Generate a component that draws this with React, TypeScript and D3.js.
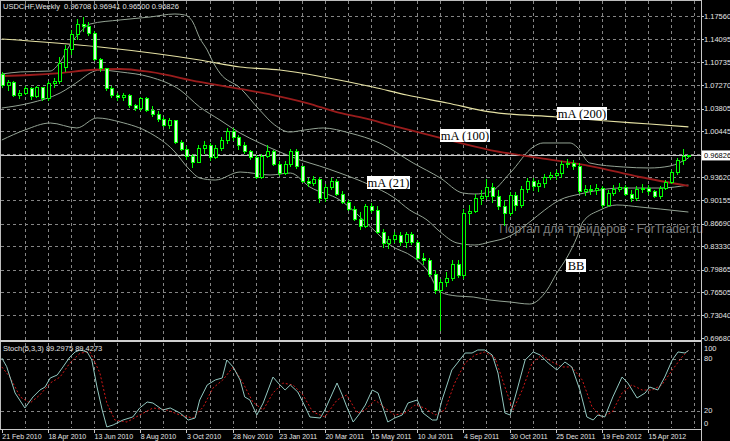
import React from "react";
import * as d3 from "d3";

const symbolTitle = "USDCHF,Weekly  0.96708 0.96941 0.96500 0.96826";
const stochTitle = "Stoch(5,3,3) 89.2975 89.4273";
const watermark = "Портал для трейдеров - ForTrader.ru";

const dateLabels = [
  "21 Feb 2010", "18 Apr 2010", "13 Jun 2010", "8 Aug 2010", "3 Oct 2010",
  "28 Nov 2010", "23 Jan 2011", "20 Mar 2011", "15 May 2011", "10 Jul 2011",
  "4 Sep 2011", "30 Oct 2011", "25 Dec 2011", "19 Feb 2012", "15 Apr 2012",
];
const dateLabelWeeks = [0, 8, 16, 24, 32, 40, 48, 56, 64, 72, 80, 88, 96, 104, 112];

const priceLabels = [1.1756, 1.14095, 1.10735, 1.0727, 1.03805, 1.00445, 0.9362, 0.90155, 0.8669, 0.8333, 0.79865, 0.76505, 0.7304, 0.6968];
const priceGridLevels = [1.1756, 1.14095, 1.10735, 1.0727, 1.03805, 1.00445, 0.9698, 0.9362, 0.90155, 0.8669, 0.8333, 0.79865, 0.76505, 0.7304];
const currentPrice = 0.96826;
const stochLevels = [80, 20];
const stochLabels = [100, 80, 20, 0];

const opens = [
  1.0879, 1.0730, 1.0760, 1.0581, 1.0611, 1.0671, 1.0552, 1.0686, 1.0522, 1.0745,
  1.0775, 1.0983, 1.1265, 1.1474, 1.1637, 1.1593, 1.1503, 1.1102, 1.0968, 1.0671,
  1.0567, 1.0537, 1.0581, 1.0418, 1.0388, 1.0522, 1.0358, 1.0284, 1.0210, 1.0135,
  1.0195, 0.9882, 0.9778, 0.9674, 0.9585, 0.9793, 0.9823, 0.9659, 0.9793, 0.9912,
  1.0046, 0.9942, 0.9823, 0.9748, 0.9659, 0.9362, 0.9674, 0.9734, 0.9555, 0.9407,
  0.9555, 0.9748, 0.9511, 0.9302, 0.9258, 0.9332, 0.9035, 0.9213, 0.9302, 0.9109,
  0.8990, 0.8886, 0.8737, 0.8633, 0.8916, 0.8871, 0.8544, 0.8366, 0.8440, 0.8485,
  0.8381, 0.8500, 0.8381, 0.8157, 0.8113, 0.7905, 0.7667, 0.7786, 0.7860, 0.8068,
  0.7890, 0.8812, 0.8856, 0.9035, 0.9079, 0.9213, 0.9065, 0.8916, 0.8812, 0.9094,
  0.8931, 0.9183, 0.9302, 0.9228, 0.9258, 0.9362, 0.9377, 0.9407, 0.9555, 0.9570,
  0.9511, 0.9139, 0.9183, 0.9154, 0.9198, 0.8931, 0.9124, 0.9183, 0.9213, 0.9109,
  0.9035, 0.9183, 0.9198, 0.9139, 0.9079, 0.9198, 0.9273, 0.9436, 0.9600, 0.96708,
];
const highs = [
  1.0924, 1.0804, 1.0790, 1.0656, 1.0715, 1.0700, 1.0715, 1.0700, 1.0790, 1.0834,
  1.1146, 1.1325, 1.1548, 1.1711, 1.1741, 1.1667, 1.1533, 1.1131, 1.0983, 1.0715,
  1.0611, 1.0611, 1.0596, 1.0448, 1.0552, 1.0552, 1.0418, 1.0343, 1.0254, 1.0240,
  1.0210, 0.9912, 0.9823, 0.9704, 0.9838, 0.9897, 0.9868, 0.9838, 0.9957, 1.0091,
  1.0091, 0.9987, 0.9882, 0.9763, 0.9689, 0.9704, 0.9838, 0.9763, 0.9600, 0.9600,
  0.9778, 0.9778, 0.9525, 0.9347, 0.9377, 0.9362, 0.9258, 0.9347, 0.9332, 0.9154,
  0.9020, 0.8931, 0.8841, 0.8960, 0.8975, 0.8931, 0.8589, 0.8485, 0.8544, 0.8544,
  0.8544, 0.8544, 0.8425, 0.8232, 0.8157, 0.7979, 0.7845, 0.7949, 0.8128, 0.8128,
  0.8886, 0.8946, 0.9109, 0.9169, 0.9332, 0.9273, 0.9169, 0.9020, 0.9139, 0.9139,
  0.9228, 0.9347, 0.9347, 0.9317, 0.9407, 0.9436, 0.9466, 0.9600, 0.9629, 0.9615,
  0.9570, 0.9243, 0.9243, 0.9258, 0.9228, 0.9169, 0.9243, 0.9273, 0.9243, 0.9169,
  0.9228, 0.9258, 0.9243, 0.9169, 0.9228, 0.9317, 0.9466, 0.9644, 0.9778, 0.96941,
];
const lows = [
  1.0686, 1.0641, 1.0552, 1.0522, 1.0581, 1.0507, 1.0537, 1.0492, 1.0492, 1.0686,
  1.0745, 1.0924, 1.1176, 1.1399, 1.1518, 1.1459, 1.1087, 1.0924, 1.0641, 1.0537,
  1.0492, 1.0492, 1.0388, 1.0343, 1.0343, 1.0329, 1.0254, 1.0180, 1.0106, 1.0076,
  0.9853, 0.9748, 0.9615, 0.9496, 0.9570, 0.9704, 0.9600, 0.9629, 0.9748, 0.9853,
  0.9897, 0.9763, 0.9704, 0.9615, 0.9332, 0.9332, 0.9644, 0.9525, 0.9377, 0.9392,
  0.9511, 0.9481, 0.9273, 0.9213, 0.9228, 0.8975, 0.8990, 0.9169, 0.9079, 0.8960,
  0.8856, 0.8708, 0.8574, 0.8604, 0.8827, 0.8514, 0.8306, 0.8291, 0.8381, 0.8336,
  0.8306, 0.8351, 0.8128, 0.8054, 0.7875, 0.7622, 0.7067, 0.7726, 0.7815, 0.7860,
  0.7845, 0.8663, 0.8827, 0.8946, 0.9035, 0.8975, 0.8871, 0.8633, 0.8782, 0.8856,
  0.8901, 0.9124, 0.9154, 0.9139, 0.9198, 0.9317, 0.9317, 0.9347, 0.9496, 0.9466,
  0.9109, 0.9079, 0.9094, 0.9094, 0.8901, 0.8916, 0.9079, 0.9139, 0.9079, 0.8990,
  0.9005, 0.9124, 0.9094, 0.9050, 0.9035, 0.9169, 0.9258, 0.9392, 0.9540, 0.96500,
];
const closes = [
  1.0730, 1.0760, 1.0581, 1.0611, 1.0671, 1.0552, 1.0686, 1.0522, 1.0745, 1.0775,
  1.1057, 1.1265, 1.1474, 1.1637, 1.1593, 1.1503, 1.1102, 1.0968, 1.0671, 1.0567,
  1.0537, 1.0581, 1.0418, 1.0388, 1.0522, 1.0358, 1.0284, 1.0210, 1.0135, 1.0195,
  0.9882, 0.9778, 0.9674, 0.9585, 0.9793, 0.9823, 0.9659, 0.9793, 0.9912, 1.0046,
  0.9942, 0.9823, 0.9748, 0.9659, 0.9362, 0.9674, 0.9734, 0.9555, 0.9407, 0.9555,
  0.9748, 0.9511, 0.9302, 0.9258, 0.9332, 0.9035, 0.9213, 0.9302, 0.9109, 0.8990,
  0.8886, 0.8737, 0.8633, 0.8916, 0.8871, 0.8544, 0.8366, 0.8440, 0.8485, 0.8381,
  0.8500, 0.8381, 0.8157, 0.8113, 0.7905, 0.7667, 0.7786, 0.7860, 0.8068, 0.7890,
  0.8812, 0.8856, 0.9035, 0.9079, 0.9213, 0.9065, 0.8916, 0.8812, 0.9094, 0.8931,
  0.9183, 0.9302, 0.9228, 0.9258, 0.9362, 0.9377, 0.9407, 0.9555, 0.9570, 0.9511,
  0.9139, 0.9183, 0.9154, 0.9198, 0.8931, 0.9124, 0.9183, 0.9213, 0.9109, 0.9035,
  0.9183, 0.9198, 0.9139, 0.9079, 0.9198, 0.9273, 0.9436, 0.9600, 0.96708, 0.96826,
];

// [week index, price]
const ma200 = [[0, 1.1414], [17, 1.1295], [34.3, 1.1102], [41.3, 1.0998], [48.2, 1.0953], [55.7, 1.0849], [64.3, 1.07], [70.2, 1.0581], [77.2, 1.0462], [84.6, 1.0329], [96.2, 1.0254], [104.9, 1.0195], [112.3, 1.015], [119, 1.0106]];
const ma100 = [[0, 1.0864], [4.9, 1.0879], [10.1, 1.0908], [15.3, 1.0953], [20.5, 1.0968], [25.7, 1.0924], [34.3, 1.0775], [41.3, 1.0671], [47, 1.0581], [52.9, 1.0462], [58.6, 1.0314], [62.6, 1.024], [67.3, 1.0135], [76, 0.9942], [84.6, 0.9763], [93.3, 0.9644], [102, 0.9525], [110.6, 0.9362], [119, 0.9228]];
const bbUpper = [[0, 1.0894], [3.2, 1.0924], [8.4, 1.0938], [10.1, 1.1072], [11.8, 1.1325], [13.6, 1.1518], [15.3, 1.1637], [20.5, 1.1697], [25.7, 1.1741], [30, 1.1786], [31.7, 1.1771], [33.1, 1.1667], [34.3, 1.1429], [35.6, 1.125], [36.6, 1.1072], [37.8, 1.0908], [41.3, 1.0686], [44.7, 1.0358], [47.3, 1.0135], [49.9, 1.0031], [52.5, 1.0061], [55.7, 1.0091], [60.3, 1.0016], [65.5, 0.9868], [71.3, 0.957], [76, 0.9347], [79.9, 0.9124], [82, 0.9109], [84.6, 0.9139], [88.1, 0.9421], [92.1, 0.9808], [93.8, 0.9868], [98.5, 0.9868], [99.7, 0.9808], [101.9, 0.957], [107.7, 0.9511], [112.3, 0.9496], [115.8, 0.9525], [119, 0.9644]];
const bbMiddle = [[0, 1.0388], [4.9, 1.0462], [10.1, 1.0611], [13.6, 1.0804], [15.3, 1.0908], [17, 1.0953], [20.5, 1.0924], [25.7, 1.0849], [30.9, 1.0656], [34.3, 1.0403], [37.8, 1.021], [41.3, 1.0016], [44.7, 0.9868], [48.2, 0.9734], [51.7, 0.9615], [55.1, 0.9525], [58.6, 0.9421], [63.8, 0.9243], [67.8, 0.9065], [70.7, 0.8871], [73.7, 0.8723], [76, 0.8544], [78.9, 0.8381], [82, 0.8351], [84.6, 0.8396], [88.1, 0.8485], [91.5, 0.8693], [94.1, 0.8871], [96.7, 0.902], [100.2, 0.9109], [103.7, 0.9169], [107.1, 0.9198], [110.6, 0.9198], [114.1, 0.9198], [119, 0.9243]];
const bbLower = [[0, 0.9912], [4, 1.0061], [8.4, 1.0165], [13, 1.0091], [16.5, 1.024], [20.5, 1.018], [25.7, 1.0016], [29.7, 0.9763], [32.6, 0.9466], [34.3, 0.9347], [37, 0.9317], [41.3, 0.9436], [46.5, 0.9392], [50, 0.9421], [53.4, 0.9213], [58.6, 0.902], [64.3, 0.8589], [67.3, 0.8351], [71.3, 0.8172], [73.7, 0.7979], [76, 0.7652], [78.9, 0.7592], [81.7, 0.7578], [84.6, 0.7533], [88.1, 0.7503], [91.5, 0.7473], [94.5, 0.7682], [96.2, 0.7935], [98, 0.8172], [99.7, 0.847], [100.7, 0.8693], [103.7, 0.8871], [106.6, 0.8946], [110.6, 0.8916], [114.1, 0.8886], [119, 0.8841]];

// [week index, value]
const stochK = [[0, 80.7], [0.85, 70.7], [2.3, 40.4], [4, 23.1], [5.4, 35.8], [6.6, 43.8], [7.5, 47.3], [8.4, 57.7], [9.6, 61.1], [10.6, 70.4], [11.8, 81.9], [12.7, 87.7], [13.6, 90], [14.8, 87.7], [15.6, 78.4], [16.5, 47.3], [17.4, 20.8], [18.2, 1.2], [19.3, 3.5], [21, 9.2], [22.7, 12.7], [23.9, 23.1], [25.2, 30], [26.2, 28.8], [27.9, 20.8], [29.2, 23.1], [30.9, 17.3], [32.3, 9.2], [33.5, 11.5], [34.3, 32.3], [35.6, 49.6], [37, 55.4], [38.2, 57.7], [39, 78.4], [40.1, 70.4], [41.3, 55.4], [42.1, 35.8], [43, 32.3], [44.2, 15], [45.3, 28.8], [47, 58.8], [47.9, 51.9], [49.1, 43.8], [50, 49.6], [51.3, 41.5], [52.6, 24.2], [53.4, 12.7], [55.2, 11.5], [56, 20.8], [58.1, 51.9], [59, 38.1], [59.8, 24.2], [60.9, 6.9], [62.1, 17.3], [63, 26.5], [64.2, 43.8], [65.2, 40.4], [66.9, 6.9], [68.1, 11.5], [69.4, 15], [70.4, 28.8], [72, 32.3], [73, 17.3], [74.6, 9.2], [75.4, 9.2], [76.3, 32.3], [78, 66.9], [79.1, 76.1], [80.3, 86.5], [81.5, 86.5], [82.5, 90], [83.7, 90], [85, 84.2], [86, 63.4], [87.2, 17.3], [88.1, 15], [89.3, 43.8], [90.7, 78.4], [92.1, 87.7], [93.3, 84.2], [94.7, 75], [96.2, 66.9], [97.6, 76.1], [98.8, 70.4], [100.2, 43.8], [101.4, 12.7], [102.5, 9.2], [103.3, 15], [104.5, 12.7], [105.9, 35.8], [107.5, 58.8], [108.5, 51.9], [110.1, 34.6], [111.5, 40.4], [112.3, 47.3], [113.7, 43.8], [114.9, 58.8], [116.2, 78.4], [117.2, 87.7], [118.4, 86.5], [119, 89.3]];
const stochD = [[0, 70.4], [1.4, 58.8], [3.2, 35.8], [4.9, 28.8], [6.6, 38.1], [8.4, 51.9], [10.1, 58.8], [11.8, 75], [13.6, 86.5], [15.3, 87.7], [17, 63.4], [18.2, 28.8], [19.6, 9.2], [21.7, 6.9], [23.9, 15], [26.2, 23.1], [28.6, 20.8], [30.9, 15], [33.1, 11.5], [34.9, 24.2], [36.6, 46.1], [38.3, 55.4], [40.1, 70.4], [41.8, 51.9], [43.5, 30], [45.3, 20.8], [47, 40.4], [48.7, 51.9], [50.5, 49.6], [52.2, 38.1], [53.9, 18.5], [56, 12.7], [58.1, 32.3], [59.8, 38.1], [61.6, 17.3], [63, 20.8], [64.7, 32.3], [66.4, 23.1], [68.1, 15], [69.9, 17.3], [71.6, 26.5], [73.3, 23.1], [75.1, 15], [76.8, 20.8], [78.5, 51.9], [80.3, 75], [82, 84.2], [83.7, 87.7], [85.5, 80.7], [87.2, 47.3], [88.6, 20.8], [90.2, 43.8], [91.9, 75], [93.6, 84.2], [95.4, 76.1], [97.1, 70.4], [98.8, 70.4], [100.6, 55.4], [102.3, 24.2], [104, 12.7], [105.8, 18.5], [107.5, 40.4], [109.2, 49.6], [111, 43.8], [112.7, 43.8], [114.4, 49.6], [116.2, 66.9], [117.9, 81.9], [119, 89.4]];

const AXIS_X = 701;
const FONT = "'Liberation Sans', Arial, sans-serif";
const SERIF = "'Liberation Serif', 'Times New Roman', serif";

export default function App() {
  const xS = d3.scaleLinear().domain([0, 119]).range([1.8, 688.4]);
  const yS = d3.scaleLinear().domain([0.6968, 1.1756]).range([338, 16]);
  const sS = d3.scaleLinear().domain([0, 100]).range([428, 341.3]);

  const priceLine = d3.line().x((d: any) => xS(d[0])).y((d: any) => yS(d[1])).curve(d3.curveMonotoneX);
  const stochLine = d3.line().x((d: any) => xS(d[0])).y((d: any) => sS(d[1]));

  const gridWeeks = d3.range(4, 121, 4);
  const gridColor = "#858585";

  const candles = d3.range(closes.length).map((i) => {
    const cx = Math.round(xS(i));
    const o = opens[i], c = closes[i];
    const bull = c > o;
    const top = yS(Math.max(o, c));
    const bot = yS(Math.min(o, c));
    return (
      <g key={i}>
        <line x1={cx + 0.5} x2={cx + 0.5} y1={yS(highs[i])} y2={yS(lows[i])} stroke="#00ff00" strokeWidth={1} />
        <rect x={cx - 1} y={top} width={3} height={Math.max(1, bot - top)} fill={bull ? "#000" : "#d6ffd6"} stroke="#00ff00" strokeWidth={1} />
      </g>
    );
  });

  const label = (text: string, x: number, y: number, w: number, h: number) => (
    <g>
      <rect x={x} y={y} width={w} height={h} fill="#fff" />
      <text x={x + w / 2} y={y + h - 2.5} textAnchor="middle" fontFamily={SERIF} fontSize={12.5} fill="#000">{text}</text>
    </g>
  );

  return (
    <svg width={730} height={441} style={{ position: "absolute", left: 0, top: 0, background: "#000" }}>
      <defs>
        <clipPath id="mainClip"><rect x={0} y={1} width={AXIS_X} height={339} /></clipPath>
        <clipPath id="stochClip"><rect x={0} y={343} width={AXIS_X} height={86} /></clipPath>
      </defs>
      <rect x={0} y={0} width={730} height={441} fill="#000" />

      {/* grids */}
      <g stroke={gridColor} strokeWidth={1} strokeDasharray="3 3">
        {priceGridLevels.map((p) => (
          <line key={p} x1={1} x2={AXIS_X} y1={Math.round(yS(p)) + 0.5} y2={Math.round(yS(p)) + 0.5} />
        ))}
        {gridWeeks.map((w) => (
          <line key={"m" + w} x1={Math.round(xS(w)) + 0.5} x2={Math.round(xS(w)) + 0.5} y1={1} y2={340} />
        ))}
        {gridWeeks.map((w) => (
          <line key={"s" + w} x1={Math.round(xS(w)) + 0.5} x2={Math.round(xS(w)) + 0.5} y1={343} y2={428} />
        ))}
        {stochLevels.map((v) => (
          <line key={"l" + v} x1={1} x2={AXIS_X} y1={Math.round(sS(v)) + 0.5} y2={Math.round(sS(v)) + 0.5} />
        ))}
      </g>

      {/* watermark */}
      <text x={703} y={233} textAnchor="end" fontFamily={FONT} fontSize={12} fill="#7c7c7c">{watermark}</text>

      <g clipPath="url(#mainClip)">
        <line x1={0} x2={AXIS_X} y1={Math.round(yS(currentPrice)) + 0.5} y2={Math.round(yS(currentPrice)) + 0.5} stroke="#c8c8c8" strokeWidth={1} />
        <path d={priceLine(ma200 as any) || ""} fill="none" stroke="#e6e2a4" strokeWidth={1.2} />
        <path d={priceLine(bbUpper as any) || ""} fill="none" stroke="#94a394" strokeWidth={1} />
        <path d={priceLine(bbMiddle as any) || ""} fill="none" stroke="#94a394" strokeWidth={1} />
        <path d={priceLine(bbLower as any) || ""} fill="none" stroke="#94a394" strokeWidth={1} />
        <path d={priceLine(ma100 as any) || ""} fill="none" stroke="#9a1c1c" strokeWidth={1.8} />
        <g shapeRendering="crispEdges">{candles}</g>
      </g>

      {label("mA (200)", 557, 107, 50, 13)}
      {label("mA (100)", 440, 129, 50, 13)}
      {label("mA (21)", 367, 176, 43, 13)}
      {label("BB", 566, 259, 20, 13)}

      {/* stochastic */}
      <g clipPath="url(#stochClip)">
        <path d={stochLine(stochD as any) || ""} fill="none" stroke="#d01818" strokeWidth={1} strokeDasharray="2 2" />
        <path d={stochLine(stochK as any) || ""} fill="none" stroke="#92c8c0" strokeWidth={1} />
      </g>

      {/* frame & axes */}
      <line x1={0} x2={AXIS_X} y1={0.5} y2={0.5} stroke="#bdbdbd" />
      <line x1={0.5} x2={0.5} y1={0} y2={429} stroke="#bdbdbd" />
      <line x1={AXIS_X + 0.5} x2={AXIS_X + 0.5} y1={0} y2={441} stroke="#c8c8c8" />
      <line x1={0} x2={AXIS_X} y1={341} y2={341} stroke="#cfcfcf" strokeWidth={2} />
      <line x1={0} x2={AXIS_X} y1={429.5} y2={429.5} stroke="#c8c8c8" />

      <g fontFamily={FONT} fontSize={7.5} fill="#e4e4e4">
        <text x={3} y={9} style={{ whiteSpace: "pre" }}>{symbolTitle}</text>
        <text x={3} y={351}>{stochTitle}</text>
        {priceLabels.map((p) => (
          <g key={p}>
            <line x1={AXIS_X} x2={AXIS_X + 3} y1={Math.round(yS(p)) + 0.5} y2={Math.round(yS(p)) + 0.5} stroke="#c8c8c8" />
            <text x={704} y={yS(p) + 2.7}>{p.toFixed(5)}</text>
          </g>
        ))}
        <rect x={702} y={yS(currentPrice) - 5} width={28} height={10} fill="#fff" />
        <text x={704} y={yS(currentPrice) + 2.7} fill="#000">{currentPrice.toFixed(5)}</text>
        {stochLabels.map((v) => (
          <text key={v} x={704} y={Math.min(426, Math.max(350.5, sS(v) + 2.7))}>{v}</text>
        ))}
        {dateLabels.map((d, k) => (
          <g key={d}>
            <line x1={Math.round(xS(dateLabelWeeks[k])) + 0.5} x2={Math.round(xS(dateLabelWeeks[k])) + 0.5} y1={429} y2={433} stroke="#c8c8c8" />
            <text x={xS(dateLabelWeeks[k]) + 0.5} y={439} fontSize={7}>{d}</text>
          </g>
        ))}
      </g>
    </svg>
  );
}
